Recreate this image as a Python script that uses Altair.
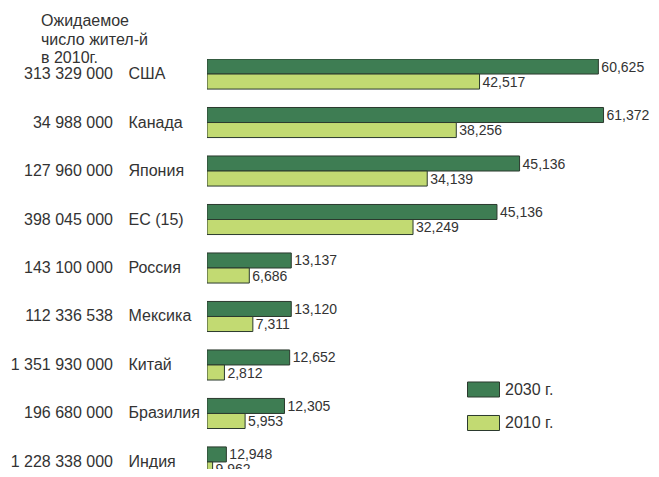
import altair as alt
import pandas as pd

countries = ["США", "Канада", "Япония", "ЕС (15)", "Россия", "Мексика", "Китай", "Бразилия", "Индия"]
population = ["313 329 000", "34 988 000", "127 960 000", "398 045 000", "143 100 000",
              "112 336 538", "1 351 930 000", "196 680 000", "1 228 338 000"]
# bar lengths as drawn in the picture
bar_2030 = [60.6, 61.4, 48.4, 44.9, 13.05, 13.05, 12.8, 12.0, 3.0]
bar_2010 = [42.2, 38.6, 34.1, 31.9, 6.55, 7.1, 2.7, 5.9, 0.87]
# value labels as printed
label_2030 = ["60,625", "61,372", "45,136", "45,136", "13,137", "13,120", "12,652", "12,305", "12,948"]
label_2010 = ["42,517", "38,256", "34,139", "32,249", "6,686", "7,311", "2,812", "5,953", "9.962"]
series = ["2030 г.", "2010 г."]
header = ["Ожидаемое", "число жител-й", "в 2010г."]

FONT = "Liberation Sans"
DARK = "#3e7d53"
LIGHT = "#c2da72"
TXT = "#333333"

rows = []
for i, c in enumerate(countries):
    rows.append({"country": c, "series": series[0], "value": bar_2030[i], "label": label_2030[i]})
    rows.append({"country": c, "series": series[1], "value": bar_2010[i], "label": label_2010[i]})
df = pd.DataFrame(rows)
pop_df = pd.DataFrame({"country": countries, "pop": population})

y_enc = alt.Y("country:N", sort=countries,
              scale=alt.Scale(range=[0, 418], paddingInner=0.38, paddingOuter=0),
              axis=alt.Axis(title=None, ticks=False, domain=False, labelAlign="left",
                            labelPadding=79, labelFontSize=16, labelFont=FONT,
                            labelColor=TXT, labelBaseline="middle"))
yoff = alt.YOffset("series:N", sort=series, scale=alt.Scale(paddingInner=0, paddingOuter=0))
x_enc = alt.X("value:Q", scale=alt.Scale(domain=[0, 68.75], nice=False), axis=None)

bars = alt.Chart(df).mark_bar(stroke="#2b3a2e", strokeWidth=1, clip=True).encode(
    x=x_enc, y=y_enc, yOffset=yoff,
    color=alt.Color("series:N", sort=series,
                    scale=alt.Scale(domain=series, range=[DARK, LIGHT]),
                    legend=alt.Legend(title=None, orient="none", legendX=260, legendY=314,
                                      symbolType="M-1,-0.469H1V0.469H-1Z", symbolSize=1024,
                                      symbolStrokeColor="#2b3a2e", symbolStrokeWidth=1,
                                      symbolOpacity=1, rowPadding=6.5, labelOffset=5,
                                      labelFontSize=16, labelFont=FONT, labelColor=TXT,
                                      padding=0)),
)

vals = alt.Chart(df).mark_text(align="left", baseline="middle", dx=3, dy=1, fontSize=14,
                               font=FONT, color=TXT, clip=True).encode(
    x=x_enc, y=y_enc, yOffset=yoff, text="label:N")

pops = alt.Chart(pop_df).mark_text(align="right", baseline="middle", fontSize=16,
                                   font=FONT, color=TXT).encode(
    x=alt.value(-94), y=alt.Y("country:N", sort=countries), text="pop:N")

chart = alt.layer(bars, vals, pops).properties(
    width=444, height=410,
    autosize=alt.AutoSizeParams(type="none"),
    padding={"left": 199, "top": 51, "right": 0, "bottom": 0},
    title=alt.TitleParams(text=header, anchor="start", frame="group", dx=-166, dy=23,
                          offset=0, fontSize=16, fontWeight="normal", color=TXT,
                          font=FONT, lineHeight=18.5, baseline="bottom"),
).configure(background="white").configure_view(stroke=None)

chart.save("out.html", embed_options={"renderer": "svg", "actions": False})
